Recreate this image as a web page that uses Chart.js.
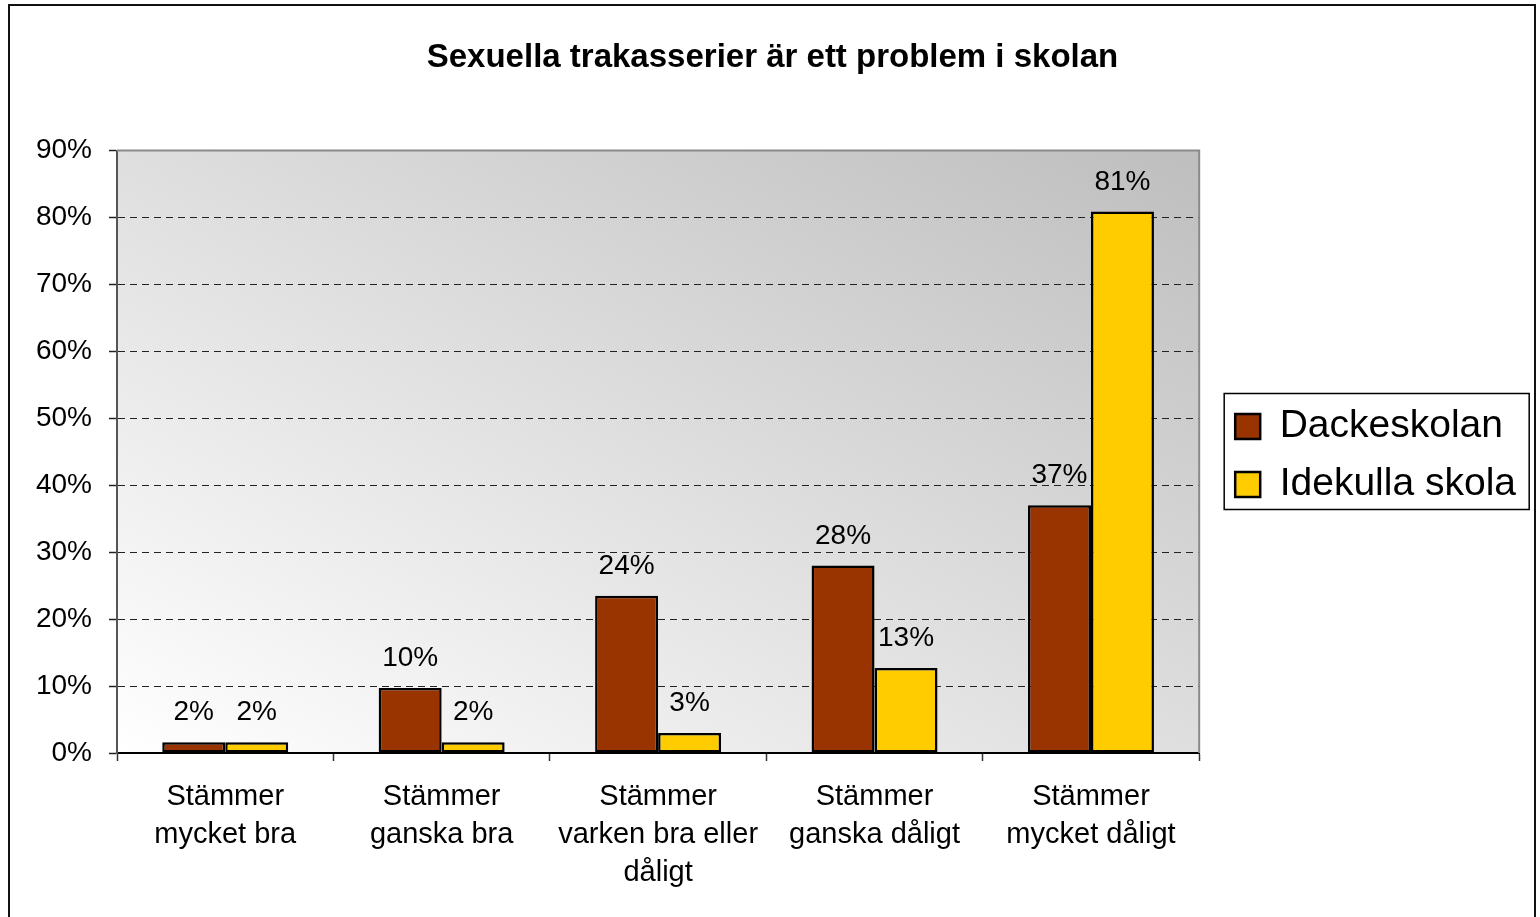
<!DOCTYPE html>
<html>
<head>
<meta charset="utf-8">
<script src="https://cdn.jsdelivr.net/npm/chart.js@4/dist/chart.umd.min.js"></script>
<style>
  html, body { margin: 0; padding: 0; background: #fff; }
  canvas { display: block; }
</style>
</head>
<body>
<canvas id="chart" width="1540" height="917"></canvas>
<script>
// === Data ===
const categories = [
  ["Stämmer", "mycket bra"],
  ["Stämmer", "ganska bra"],
  ["Stämmer", "varken bra eller", "dåligt"],
  ["Stämmer", "ganska dåligt"],
  ["Stämmer", "mycket dåligt"]
];
const dackeskolan = [1.6, 9.7, 23.5, 28, 37];
const idekulla = [1.6, 1.6, 3, 12.7, 80.9];
const seriesNames = ["Dackeskolan", "Idekulla skola"];
const yTicks = [0, 10, 20, 30, 40, 50, 60, 70, 80, 90];

const FONT = "'Liberation Sans', Arial, sans-serif";
Chart.defaults.font.family = FONT;
Chart.defaults.color = "#000";

// bakgrund, gradient i ritytan och ram runt hela diagrammet
const backgroundPlugin = {
  id: "background",
  beforeDraw(chart) {
    const { ctx, chartArea: a, width, height } = chart;
    ctx.save();
    ctx.fillStyle = "#fff";
    ctx.fillRect(0, 0, width, height);

    // diagonal gradient: vitt nere till vänster, grått uppe till höger
    const w = a.right - a.left, h = a.bottom - a.top;
    const k = 2 / (1 / (w * w) + 1 / (h * h));
    const x0 = a.left, y0 = a.bottom;
    const grad = ctx.createLinearGradient(x0, y0, x0 + k / w, y0 - k / h);
    grad.addColorStop(0, "#ffffff");
    grad.addColorStop(1, "#bebebe");
    ctx.fillStyle = grad;
    ctx.fillRect(a.left, a.top, w, h);

    ctx.strokeStyle = "#111";
    ctx.lineWidth = 2;
    ctx.strokeRect(9, 5, 1526, height + 10);
    ctx.restore();
  },
  beforeDatasetsDraw(chart) {
    const { ctx, chartArea: a } = chart;
    ctx.save();
    ctx.strokeStyle = "#8a8a8a";
    ctx.lineWidth = 2;
    ctx.beginPath();
    ctx.moveTo(a.left, a.top);
    ctx.lineTo(a.right, a.top);
    ctx.lineTo(a.right, a.bottom);
    ctx.stroke();
    ctx.restore();
  }
};

// flytta förklaringen lite åt höger/ned och rita en ram runt den
const legendBoxPlugin = {
  id: "legendBox",
  afterLayout(chart) {
    const lg = chart.legend;
    lg.left += 17; lg.right += 17;
    lg.top += 11; lg.bottom += 11;
  },
  afterDraw(chart) {
    const hb = chart.legend.legendHitBoxes;
    if (!hb || hb.length < 2) return;
    const { ctx } = chart;
    const left = hb[0].left - 11;
    const top = hb[0].top - 13.5;
    const bottom = hb[1].top + hb[1].height + 5.5;
    ctx.save();
    ctx.strokeStyle = "#000";
    ctx.lineWidth = 1.5;
    ctx.strokeRect(left, top, 305, bottom - top);
    ctx.restore();
  }
};

// procentetiketter ovanför staplarna
const valueLabelPlugin = {
  id: "valueLabels",
  afterDatasetsDraw(chart) {
    const { ctx } = chart;
    ctx.save();
    ctx.font = "28px " + FONT;
    ctx.fillStyle = "#000";
    ctx.textAlign = "center";
    ctx.textBaseline = "alphabetic";
    chart.data.datasets.forEach((ds, i) => {
      chart.getDatasetMeta(i).data.forEach((bar, j) => {
        ctx.fillText(Math.round(ds.data[j]) + "%", bar.x, bar.y - 22);
      });
    });
    ctx.restore();
  }
};

const ctx = document.getElementById("chart").getContext("2d");
new Chart(ctx, {
  type: "bar",
  data: {
    labels: categories,
    datasets: [
      {
        label: seriesNames[0],
        data: dackeskolan,
        backgroundColor: "#993300",
        borderColor: "#000",
        borderWidth: 2.5,
        borderSkipped: false
      },
      {
        label: seriesNames[1],
        data: idekulla,
        backgroundColor: "#ffcc00",
        borderColor: "#000",
        borderWidth: 2.5,
        borderSkipped: false
      }
    ]
  },
  options: {
    responsive: false,
    animation: false,
    events: [],
    layout: { padding: { left: 36, right: 31, top: 0, bottom: 28 } },
    datasets: { bar: { barPercentage: 1, categoryPercentage: 0.582 } },
    plugins: {
      title: {
        display: true,
        text: "Sexuella trakasserier är ett problem i skolan",
        font: { size: 33, weight: "bold", lineHeight: 1.2 },
        color: "#000",
        padding: { top: 38, bottom: 73 }
      },
      legend: {
        position: "right",
        align: "center",
        labels: {
          boxWidth: 25,
          boxHeight: 25,
          padding: 19,
          font: { size: 39 },
          color: "#000"
        }
      },
      tooltip: { enabled: false }
    },
    scales: {
      x: {
        offset: true,
        afterFit(scale) { scale.height = 136; },
        grid: {
          offset: true,
          drawOnChartArea: false,
          drawTicks: true,
          tickLength: 8,
          tickColor: "#333",
          tickWidth: 1.5
        },
        border: { display: true, color: "#000", width: 2 },
        ticks: {
          maxRotation: 0,
          autoSkip: false,
          padding: 17,
          font: { size: 29, lineHeight: 38 / 29 },
          color: "#000"
        }
      },
      y: {
        min: 0,
        max: yTicks[yTicks.length - 1],
        afterFit(scale) { scale.width = 81; },
        afterBuildTicks(scale) {
          scale.ticks = yTicks.map(v => ({ value: v }));
        },
        grid: {
          drawTicks: true,
          tickLength: 8,
          tickColor: "#222",
          tickWidth: 1.5,
          lineWidth: 1,
          color: c => (c.tick && (c.tick.value === 0 || c.tick.value === 90)) ? "rgba(0,0,0,0)" : "#222"
        },
        border: { display: true, color: "#555", width: 2, dash: [7, 5] },
        ticks: {
          padding: 17,
          font: { size: 28 },
          color: "#000",
          callback: v => v + "%"
        }
      }
    }
  },
  plugins: [backgroundPlugin, legendBoxPlugin, valueLabelPlugin]
});
</script>
</body>
</html>
